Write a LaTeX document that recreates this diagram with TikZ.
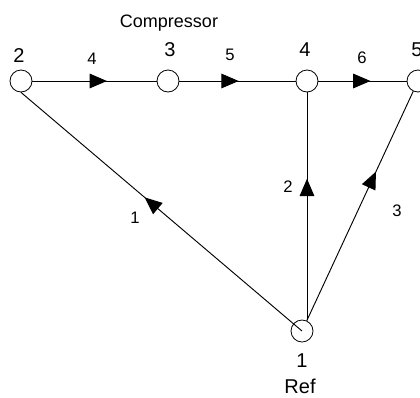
\documentclass[tikz,border=0pt]{standalone}
\usepackage{fontspec}
\setmainfont{Liberation Sans}
\usepackage{tikz}
\usetikzlibrary{arrows.meta,decorations.markings}
\tikzstyle{junction} = [circle, draw=black, fill=white, minimum size=22*0.75pt, inner sep=0pt, line width=0.6pt]
\tikzstyle{nodelabel} = [inner sep=0pt, font=\fontsize{15}{17}\selectfont]
\tikzstyle{edgelabel} = [inner sep=0pt, font=\fontsize{12.5}{14}\selectfont]
\tikzstyle{flow} = [line width=0.7pt, postaction={decorate}]
\tikzset{midarrow/.style={decoration={markings, mark=at position #1 with {\arrow{Triangle[length=13pt, width=11pt]}}}}}

\begin{document}
\begin{tikzpicture}[x=0.75pt, y=-0.75pt]
\useasboundingbox (0,0) rectangle (420,397);

% Junctions
\node[junction] (n2) at (21,81) {};
\node[junction] (n3) at (168,81) {};
\node[junction] (n4) at (307,81) {};
\node[junction] (n5) at (418,81) {};
\node[junction] (n1) at (302,331) {};

% Junction labels
\node[nodelabel] (t2) at (19,56) {2};
\node[nodelabel] (t3) at (170,50) {3};
\node[nodelabel] (t4) at (305,50) {4};
\node[nodelabel] (t5) at (417,50) {5};
\node[nodelabel] (t1) at (302,361) {1};
\node[nodelabel] (ref) at (300,386) {Ref};
\node[nodelabel, anchor=base, font=\fontsize{13.5}{15}\selectfont] (comp) at (169,27) {Compressor};

% Branches
\draw[flow, midarrow=0.6] (n2) -- (n3);
\draw[flow, midarrow=0.51] (n3) -- (n4);
\draw[flow, midarrow=0.59] (n4) -- (n5);
\draw[flow, midarrow=0.56] (n1.center) -- (n2.south);
\draw[flow, midarrow=0.62] (n4 |- n1.north) -- (n4);
\draw[flow, midarrow=0.65] (n1) -- (n5);

% Branch labels
\node[edgelabel] (b4) at (92,59) {4};
\node[edgelabel] (b5) at (230,55) {5};
\node[edgelabel] (b6) at (362,58) {6};
\node[edgelabel] (b1) at (135,218) {1};
\node[edgelabel] (b2) at (288,187) {2};
\node[edgelabel] (b3) at (397,211) {3};
\end{tikzpicture}
\end{document}
